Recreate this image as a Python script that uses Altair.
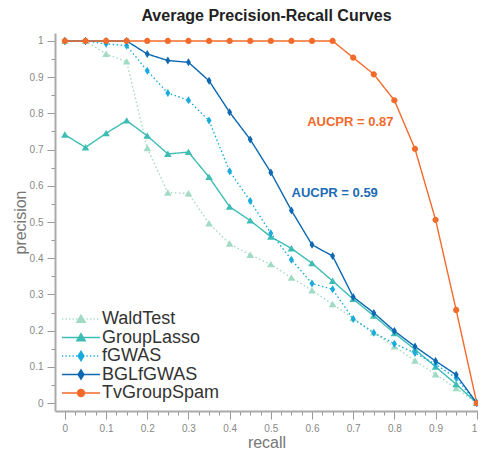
import altair as alt
import pandas as pd

recall = [0, 0.05, 0.1, 0.15, 0.2, 0.25, 0.3, 0.35, 0.4, 0.45, 0.5,
          0.55, 0.6, 0.65, 0.7, 0.75, 0.8, 0.85, 0.9, 0.95, 1]

series = ["WaldTest", "GroupLasso", "fGWAS", "BGLfGWAS", "TvGroupSpam"]

wald = [1, 1, 0.964, 0.943, 0.704, 0.581, 0.579, 0.496, 0.440, 0.409, 0.383,
        0.346, 0.311, 0.273, 0.234, 0.195, 0.156, 0.117, 0.079, 0.041, 0]
lasso = [0.741, 0.706, 0.745, 0.780, 0.738, 0.688, 0.693, 0.624, 0.542, 0.504, 0.459,
         0.427, 0.386, 0.337, 0.287, 0.241, 0.193, 0.148, 0.100, 0.052, 0]
fgwas = [1, 1, 0.992, 0.987, 0.918, 0.856, 0.836, 0.780, 0.640, 0.558, 0.469,
         0.396, 0.330, 0.314, 0.232, 0.194, 0.164, 0.138, 0.107, 0.069, 0]
bgl = [1, 1, 1, 1, 0.964, 0.946, 0.941, 0.890, 0.803, 0.728, 0.637,
       0.532, 0.437, 0.406, 0.293, 0.249, 0.199, 0.156, 0.116, 0.078, 0]
tv = [1, 1, 1, 1, 1, 1, 1, 1, 1, 1, 1,
      1, 1, 1, 0.954, 0.908, 0.836, 0.702, 0.506, 0.257, 0]

ann_text = ["AUCPR = 0.87", "AUCPR = 0.59"]
ann_x = [0.693, 0.655]
ann_y = [0.775, 0.580]
ann_color = ["#f26a2c", "#1a6db5"]

colors = ["#a2dbc3", "#3dbdb4", "#18abdc", "#0b68b1", "#f36b2b"]

values = [wald, lasso, fgwas, bgl, tv]
rows = []
for s, vals in zip(series, values):
    for r, p in zip(recall, vals):
        rows.append({"series": s, "recall": r, "precision": p})
df = pd.DataFrame(rows)

ann = pd.DataFrame({"text": ann_text, "recall": ann_x, "precision": ann_y, "c": ann_color})


def tri_s(u):
    return f"M0,{-0.85*u}L{0.95*u},{0.75*u}L{-0.95*u},{0.75*u}Z"


def dia_s(u):
    return f"M0,{-1*u}L{0.62*u},0L0,{1*u}L{-0.62*u},0Z"


def circ_s(u):
    r = 0.78 * u
    return f"M{-r},0A{r},{r} 0 1,0 {r},0A{r},{r} 0 1,0 {-r},0Z"


tri = tri_s(1)
dia = dia_s(1)
circ = circ_s(1)

# legend symbols: line segment plus marker (unit = 5px)
L = 3.8


def solid_line():
    return f"M{-L},0L{L},0"


def dotted_line():
    parts = []
    x = -L
    while x < L:
        parts.append(f"M{x:.2f},0L{min(x + 0.25, L):.2f},0")
        x += 0.7
    return "".join(parts)


m = 0.9
leg_paths = [
    dotted_line() + tri_s(m),
    solid_line() + tri_s(m),
    dotted_line() + dia_s(m * 1.05),
    solid_line() + dia_s(m * 1.05),
    solid_line() + circ_s(m),
]

color_scale = alt.Scale(domain=series, range=colors)

xdom = [-0.024, 1.003]
ydom = [-0.022, 1.022]

x_ticks = [round(i * 0.025, 3) for i in range(41)]
y_ticks = [round(i * 0.05, 2) for i in range(21)]

major_test = "abs(datum.value*10 - round(datum.value*10)) < 0.001"
label_expr = f"({major_test}) ? format(datum.value, '.1~f') : ''"
tick_size = {"condition": {"test": major_test, "value": 8}, "value": 4}

x_enc = alt.X("recall:Q", scale=alt.Scale(domain=xdom, nice=False, zero=False),
              axis=alt.Axis(values=x_ticks, labelExpr=label_expr, tickSize=tick_size,
                            title="recall", grid=False, labelFlush=5, labelOverlap=False))
y_enc = alt.Y("precision:Q", scale=alt.Scale(domain=ydom, nice=False, zero=False),
              axis=alt.Axis(values=y_ticks, labelExpr=label_expr, tickSize=tick_size,
                            title="precision", grid=False, labelOverlap=False))

base = alt.Chart(df)

lines = base.mark_line(strokeWidth=1.4, clip=False).encode(
    x=x_enc, y=y_enc,
    color=alt.Color("series:N", scale=color_scale, legend=None),
    strokeDash=alt.StrokeDash("series:N", scale=alt.Scale(
        domain=series, range=[[1.5, 2.5], [1, 0], [1.5, 2.5], [1, 0], [1, 0]]), legend=None),
    detail="series:N",
    order=alt.Order("recall:Q"),
)

points = base.mark_point(filled=True, opacity=1, size=64).encode(
    x=x_enc, y=y_enc,
    color=alt.Color("series:N", scale=color_scale, legend=None),
    shape=alt.Shape("series:N", scale=alt.Scale(domain=series, range=[tri, tri, dia, dia, circ]),
                    legend=None),
)

leg = dict(orient="none", legendX=17, legendY=277, title=None)
legend_layer = base.transform_filter("false").mark_point(filled=True, opacity=1, strokeWidth=1.4).encode(
    color=alt.Color("series:N", scale=color_scale, title=None, legend=alt.Legend(**leg)),
    stroke=alt.Stroke("series:N", scale=color_scale, title=None, legend=alt.Legend(**leg)),
    shape=alt.Shape("series:N", scale=alt.Scale(domain=series, range=leg_paths), title=None,
                    legend=alt.Legend(**leg)),
)

texts = alt.Chart(ann).mark_text(fontSize=13, fontWeight="bold", font="Liberation Sans",
                                  align="center", baseline="middle").encode(
    x=x_enc, y=y_enc,
    text="text:N",
    color=alt.Color("c:N", scale=None),
)

chart = alt.layer(lines, points, texts, legend_layer).resolve_scale(
    color="independent", shape="independent", stroke="independent"
).properties(
    width=423, height=378,
    padding={"left": 4, "top": 0, "right": -3, "bottom": 2},
    title=alt.TitleParams("Average Precision-Recall Curves", fontSize=16, font="Liberation Sans",
                          fontWeight="bold", color="#222222", offset=9, anchor="middle"),
).configure_view(stroke=None).configure_axis(
    domainColor="#aaaaaa", domainWidth=2, tickColor="#999999", tickWidth=1,
    labelColor="#888888", labelFontSize=10, labelFont="Liberation Sans", labelPadding=4,
    titleColor="#777777", titleFontSize=16, titleFont="Liberation Sans", titleFontWeight="normal",
    titlePadding=1,
).configure_legend(
    labelFontSize=18, labelColor="#333333", labelFont="Liberation Sans",
    symbolSize=100, symbolStrokeWidth=1.4, labelOffset=12, rowPadding=0.5, padding=0,
)

chart.save("out.html", embed_options={"renderer": "svg", "actions": False})
